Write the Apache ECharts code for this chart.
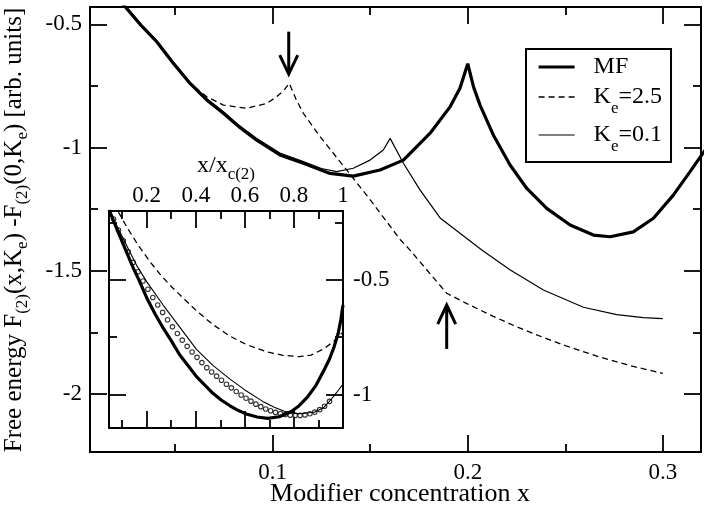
<!DOCTYPE html>
<html>
<head>
<meta charset="utf-8">
<script src="https://cdn.jsdelivr.net/npm/echarts@6/dist/echarts.min.js"></script>
<style>html,body{margin:0;padding:0;background:#fff}#c{width:706px;height:508px}</style>
</head>
<body>
<div id="c"></div>
<script>
// ---------- data ----------
// main panel: x = modifier concentration, y = free energy
const mfMain = [[0.020,-0.392],[0.0251,-0.436],[0.0325,-0.505],[0.0405,-0.571],[0.049,-0.658],[0.0576,-0.740],[0.066,-0.806],[0.0747,-0.861],[0.083,-0.918],[0.0918,-0.970],[0.1037,-1.030],[0.1157,-1.064],[0.1294,-1.105],[0.1413,-1.116],[0.1550,-1.091],[0.1670,-1.051],[0.1807,-0.942],[0.1910,-0.834],[0.1960,-0.760],[0.2000,-0.660],[0.2030,-0.755],[0.2063,-0.828],[0.2131,-0.949],[0.2217,-1.071],[0.2303,-1.166],[0.2405,-1.247],[0.2525,-1.314],[0.2644,-1.355],[0.2730,-1.362],[0.2849,-1.342],[0.2952,-1.287],[0.3054,-1.193],[0.3140,-1.098],[0.3200,-1.030],[0.3250,-0.975]];
const ke25Main = [[0.020,-0.388],[0.0251,-0.432],[0.0325,-0.501],[0.0405,-0.567],[0.049,-0.655],[0.0576,-0.740],[0.0662,-0.794],[0.0747,-0.828],[0.0867,-0.841],[0.0969,-0.821],[0.1020,-0.794],[0.1055,-0.770],[0.1085,-0.740],[0.1120,-0.805],[0.1157,-0.861],[0.1243,-0.956],[0.1379,-1.091],[0.1499,-1.211],[0.1653,-1.373],[0.1704,-1.416],[0.1892,-1.591],[0.1995,-1.633],[0.2131,-1.685],[0.2251,-1.727],[0.2354,-1.760],[0.2508,-1.806],[0.2678,-1.850],[0.2849,-1.888],[0.3000,-1.916]];
const ke01Main = [[0.020,-0.386],[0.0251,-0.431],[0.0325,-0.500],[0.0405,-0.566],[0.049,-0.653],[0.0576,-0.735],[0.066,-0.801],[0.0747,-0.855],[0.083,-0.912],[0.0918,-0.963],[0.1037,-1.022],[0.1157,-1.057],[0.1250,-1.085],[0.1328,-1.098],[0.1413,-1.084],[0.1499,-1.051],[0.1567,-1.010],[0.1602,-0.963],[0.1670,-1.064],[0.1755,-1.172],[0.1860,-1.287],[0.2072,-1.416],[0.2218,-1.497],[0.2388,-1.578],[0.2593,-1.648],[0.2764,-1.678],[0.2900,-1.690],[0.3000,-1.694]];

// inset: x = x/x_c(2)
const mfInset = [[0.047,-0.195],[0.08,-0.282],[0.112,-0.364],[0.146,-0.450],[0.166,-0.495],[0.20,-0.578],[0.235,-0.650],[0.267,-0.710],[0.30,-0.765],[0.335,-0.828],[0.37,-0.876],[0.403,-0.922],[0.44,-0.962],[0.47,-0.995],[0.505,-1.025],[0.538,-1.048],[0.57,-1.068],[0.606,-1.085],[0.65,-1.098],[0.693,-1.104],[0.74,-1.097],[0.788,-1.075],[0.82,-1.050],[0.856,-1.010],[0.89,-0.960],[0.923,-0.893],[0.945,-0.845],[0.964,-0.791],[0.98,-0.735],[0.991,-0.675],[1.0,-0.610]];
const ke25Inset = [[0.060,-0.170],[0.085,-0.205],[0.12,-0.272],[0.166,-0.350],[0.213,-0.420],[0.254,-0.475],[0.301,-0.530],[0.349,-0.580],[0.403,-0.635],[0.47,-0.695],[0.538,-0.745],[0.606,-0.782],[0.687,-0.813],[0.755,-0.829],[0.82,-0.835],[0.87,-0.828],[0.923,-0.800],[0.96,-0.770],[1.0,-0.728]];
const ke01Inset = [[0.047,-0.198],[0.07,-0.248],[0.10,-0.310],[0.13,-0.375],[0.159,-0.437],[0.20,-0.508],[0.267,-0.610],[0.33,-0.700],[0.403,-0.803],[0.47,-0.873],[0.538,-0.932],[0.60,-0.980],[0.673,-1.030],[0.72,-1.056],[0.761,-1.073],[0.82,-1.084],[0.883,-1.077],[0.92,-1.058],[0.951,-1.022],[0.975,-0.990],[1.0,-0.955]];
const circlesInset = [[0.065,-0.235],[0.085,-0.283],[0.105,-0.330],[0.125,-0.378],[0.145,-0.424],[0.165,-0.465],[0.185,-0.505],[0.205,-0.541],[0.225,-0.577],[0.245,-0.610],[0.265,-0.642],[0.285,-0.674],[0.305,-0.705],[0.325,-0.734],[0.345,-0.763],[0.365,-0.790],[0.385,-0.815],[0.405,-0.838],[0.425,-0.861],[0.445,-0.883],[0.465,-0.902],[0.485,-0.920],[0.505,-0.938],[0.525,-0.955],[0.545,-0.971],[0.565,-0.987],[0.585,-1.002],[0.605,-1.016],[0.625,-1.029],[0.645,-1.042],[0.665,-1.053],[0.685,-1.063],[0.705,-1.071],[0.725,-1.078],[0.745,-1.083],[0.765,-1.087],[0.785,-1.090],[0.805,-1.091],[0.825,-1.091],[0.845,-1.089],[0.865,-1.084],[0.885,-1.077],[0.905,-1.066],[0.925,-1.051],[0.945,-1.030]];

// tick values
const mainXMajor = [0.1, 0.2, 0.3];
const mainXMinor = [0.05, 0.15, 0.25];
const mainYMajor = [-0.5, -1, -1.5, -2];
const mainYMinor = [-0.75, -1.25, -1.75];
const insetXMajor = [0.2, 0.4, 0.6, 0.8, 1];
const insetXMinor = [0.1, 0.3, 0.5, 0.7, 0.9];
const insetYMajor = [-0.5, -1];
const insetYMinor = [-0.25, -0.75];

// legend entries
const legendNames = ['MF', 'K_e=2.5', 'K_e=0.1'];

// annotation arrows (data coords): [x, tailY, tipY]
const arrowDown = [0.1082, -0.530, -0.702];
const arrowUp = [0.1892, -1.817, -1.639];

// ---------- chart ----------
const FONT = 'Liberation Serif';
const MAIN = {xmin: 0.0063, xmax: 0.3196, ymin: -2.235, ymax: -0.43};
const INS = {xmin: 0.0465, xmax: 1.0, ymin: -1.146, ymax: -0.2};

function axis(kind, grid, pos, range, ticks, len, labels, showLine, margin) {
  return {
    type: 'value', gridIndex: grid, position: pos,
    min: kind === 'x' ? range.xmin : range.ymin,
    max: kind === 'x' ? range.xmax : range.ymax,
    splitLine: {show: false},
    axisLine: {show: showLine, onZero: false, lineStyle: {color: '#000', width: 2}},
    axisTick: {show: true, inside: true, length: len, customValues: ticks, lineStyle: {color: '#000', width: 1.8}},
    axisLabel: labels ? {show: true, customValues: labels, color: '#000', fontFamily: FONT, fontSize: 23, margin: margin} : {show: false}
  };
}

const xAxes = [
  axis('x', 0, 'bottom', MAIN, mainXMajor, 17, mainXMajor, true, 9),
  axis('x', 0, 'bottom', MAIN, mainXMinor, 8, null, false),
  axis('x', 0, 'top', MAIN, mainXMajor, 17, null, true),
  axis('x', 0, 'top', MAIN, mainXMinor, 8, null, false),
  axis('x', 1, 'top', INS, insetXMajor, 17, insetXMajor, true, 4),
  axis('x', 1, 'top', INS, insetXMinor, 8, null, false),
  axis('x', 1, 'bottom', INS, insetXMajor, 17, null, true),
  axis('x', 1, 'bottom', INS, insetXMinor, 8, null, false)
];
const yAxes = [
  axis('y', 0, 'left', MAIN, mainYMajor, 17, mainYMajor, true, 8),
  axis('y', 0, 'left', MAIN, mainYMinor, 8, null, false),
  axis('y', 0, 'right', MAIN, mainYMajor, 17, null, true),
  axis('y', 0, 'right', MAIN, mainYMinor, 8, null, false),
  axis('y', 1, 'right', INS, insetYMajor, 17, insetYMajor, true, 10),
  axis('y', 1, 'right', INS, insetYMinor, 8, null, false),
  axis('y', 1, 'left', INS, insetYMajor, 17, null, true),
  axis('y', 1, 'left', INS, insetYMinor, 8, null, false)
];

const richMain = {
  n: {fontFamily: FONT, fontSize: 25, lineHeight: 34, color: '#000'},
  s: {fontFamily: FONT, fontSize: 17, lineHeight: 34, verticalAlign: 'bottom', color: '#000'}
};

const chart = echarts.init(document.getElementById('c'), null, {renderer: 'canvas'});
const legendWidths = [3.2, 1.3, 1.2];
const option = {
  backgroundColor: '#fff',
  animation: false,
  textStyle: {fontFamily: FONT, color: '#000'},
  grid: [
    {left: 90, top: 7, width: 611, height: 445, containLabel: false},
    {left: 109, top: 211, width: 234, height: 217, containLabel: false, show: true, backgroundColor: '#fff', borderWidth: 0}
  ],
  xAxis: xAxes,
  yAxis: yAxes,
  legend: {
    orient: 'vertical', left: 526, top: 49,
    data: legendNames.map((n, i) => ({name: n, lineStyle: {width: legendWidths[i]}})),
    itemWidth: 36, itemHeight: 2, itemGap: 6,
    itemStyle: {opacity: 0, borderWidth: 0},
    borderColor: '#000', borderWidth: 2, borderRadius: 0,
    padding: [6, 9, 7, 11],
    backgroundColor: '#fff',
    selectedMode: false,
    formatter: function (name) {
      if (name === 'MF') return '{g| }{n|MF}';
      return '{g| }{n|K}{s|e}{n|' + name.slice(3) + '}';
    },
    textStyle: {
      fontFamily: FONT,
      rich: {
        g: {width: 14, fontSize: 10, fontFamily: FONT},
        n: {fontFamily: FONT, fontSize: 24, lineHeight: 28, color: '#000'},
        s: {fontFamily: FONT, fontSize: 17, lineHeight: 28, verticalAlign: 'bottom', color: '#000', padding: [0, 0, -6, 0]}
      }
    }
  },
  series: [
    {name: 'MF', type: 'line', xAxisIndex: 0, yAxisIndex: 0, data: mfMain, symbol: 'none', clip: true,
     lineStyle: {color: '#000', width: 3.2}, itemStyle: {color: '#000'}},
    {name: 'K_e=2.5', type: 'line', xAxisIndex: 0, yAxisIndex: 0, data: ke25Main, symbol: 'none', clip: true,
     lineStyle: {color: '#000', width: 1.3, type: [6, 4]}, itemStyle: {color: '#000'}},
    {name: 'K_e=0.1', type: 'line', xAxisIndex: 0, yAxisIndex: 0, data: ke01Main, symbol: 'none', clip: true,
     lineStyle: {color: '#000', width: 1.2}, itemStyle: {color: '#000'}},
    {name: 'inset MF', type: 'line', xAxisIndex: 4, yAxisIndex: 4, data: mfInset, symbol: 'none', clip: true,
     lineStyle: {color: '#000', width: 3.2}},
    {name: 'inset K_e=2.5', type: 'line', xAxisIndex: 4, yAxisIndex: 4, data: ke25Inset, symbol: 'none', clip: true,
     lineStyle: {color: '#000', width: 1.3, type: [6, 4]}},
    {name: 'inset K_e=0.1', type: 'line', xAxisIndex: 4, yAxisIndex: 4, data: ke01Inset, symbol: 'none', clip: true,
     lineStyle: {color: '#000', width: 1.1}},
    {name: 'inset points', type: 'scatter', xAxisIndex: 4, yAxisIndex: 4, data: circlesInset, symbol: 'circle', symbolSize: 4.5,
     itemStyle: {color: '#fff', borderColor: '#000', borderWidth: 1.1}}
  ],
  graphic: [
    {id: 'ytitle', type: 'text', x: 14, y: 230, rotation: Math.PI / 2,
     style: {text: '{n|Free energy F}{s|(2)}{n|(x,K}{s|e}{n|) -F}{s|(2)}{n|(0,K}{s|e}{n|) [arb. units]}', rich: richMain, fontFamily: FONT, align: 'center', verticalAlign: 'middle'}},
    {id: 'xtitle', type: 'text', x: 400, y: 494,
     style: {text: 'Modifier concentration x', fontFamily: FONT, fontSize: 26, fill: '#000', align: 'center', verticalAlign: 'middle'}},
    {id: 'insettitle', type: 'text', x: 226, y: 166,
     style: {text: '{n|x/x}{s|c(2)}', fontFamily: FONT, rich: {
        n: {fontFamily: FONT, fontSize: 24, lineHeight: 34, color: '#000'},
        s: {fontFamily: FONT, fontSize: 17, lineHeight: 34, verticalAlign: 'bottom', color: '#000'}
      }, align: 'center', verticalAlign: 'middle'}}
  ]
};
chart.setOption(option);

function arrowShapes(id, a) {
  const tail = chart.convertToPixel({xAxisIndex: 0, yAxisIndex: 0}, [a[0], a[1]]);
  const tip = chart.convertToPixel({xAxisIndex: 0, yAxisIndex: 0}, [a[0], a[2]]);
  const dir = tip[1] > tail[1] ? -1 : 1;
  const st = {stroke: '#000', lineWidth: 3, fill: null};
  return [
    {id: id + 's', type: 'line', shape: {x1: tail[0], y1: tail[1], x2: tip[0], y2: tip[1]}, style: st, z: 100},
    {id: id + 'h', type: 'polyline', shape: {points: [[tip[0] - 9, tip[1] + dir * 19], [tip[0], tip[1]], [tip[0] + 9, tip[1] + dir * 19]]}, style: st, z: 100}
  ];
}
chart.setOption({graphic: [].concat(arrowShapes('ad', arrowDown), arrowShapes('au', arrowUp))});
</script>
</body>
</html>
